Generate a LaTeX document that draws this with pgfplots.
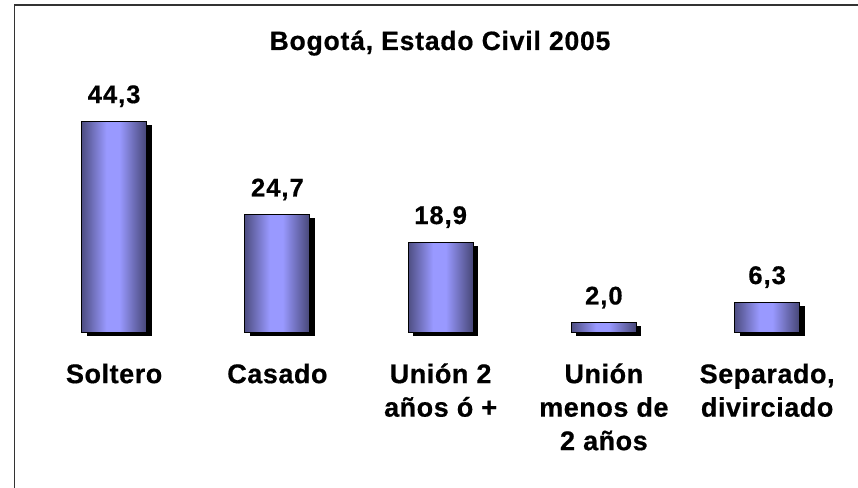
\documentclass[border=0pt]{standalone}
\usepackage{pgfplots}
\pgfplotsset{compat=1.18}
\usepackage{fontspec}
\setmainfont{Liberation Sans}
\newfontfamily\titlefont{Liberation Sans Bold}[LetterSpace=3, FakeBold=0.6]
\newfontfamily\valfont{Liberation Sans Bold}[LetterSpace=4, FakeBold=0.6]
\newfontfamily\labfont{Liberation Sans Bold}[LetterSpace=2, FakeBold=0.6]
\definecolor{bdark}{RGB}{78,78,130}
\definecolor{bdark2}{RGB}{70,70,118}
\definecolor{blight}{RGB}{153,153,255}
\pgfdeclarehorizontalshading{barshade}{100bp}{color(0bp)=(bdark); color(25bp)=(bdark); color(44bp)=(blight); color(54bp)=(blight); color(75bp)=(bdark2); color(100bp)=(bdark2)}
\pgfplotsset{
  shadowbar/.style={ybar, bar width=65pt, bar shift=0pt, fill=black, draw=none, xshift=5pt, yshift=-4pt},
  mainbar/.style={ybar, bar width=65pt, bar shift=0pt, shading=barshade, draw=black, line width=1pt,
    nodes near coords, nodes near coords style={anchor=base, yshift=18pt, inner sep=0pt, font=\valfont\fontsize{25.5}{30}\selectfont}},
}
\begin{document}
\begin{tikzpicture}[x=1pt,y=1pt]
\useasboundingbox (0,0) rectangle (858,487);
\draw[line width=1.6pt, color=black!80] (14.5,-10) -- (14.5,482) -- (880,482);
\node[anchor=base, inner sep=0pt, font=\titlefont\fontsize{26.5}{30}\selectfont] at (440,437) {Bogotá, Estado Civil 2005};
\begin{axis}[
  at={(32.5pt,155pt)}, anchor=south west,
  scale only axis, width=816.25pt, height=238pt,
  xmin=-0.5, xmax=4.5, ymin=0, ymax=50,
  clip=false,
  axis line style={draw=none},
  major tick length=0pt,
  ytick=\empty,
  xtick={0,1,2,3,4},
  xticklabels={Soltero, Casado, {Unión 2\\años ó +}, {Unión\\menos de\\2 años}, {Separado,\\divirciado}},
  typeset ticklabels with strut,
  xticklabel style={align=center, anchor=north, inner sep=0pt, font=\labfont\fontsize{27}{33.5}\selectfont, yshift=-27.5pt},
  /pgf/number format/assume math mode=true,
  /pgf/number format/.cd, use comma, fixed, fixed zerofill, precision=1, 1000 sep={},
]
\addplot[shadowbar] coordinates {(0,44.3)};
\addplot[shadowbar] coordinates {(1,24.7)};
\addplot[shadowbar] coordinates {(2,18.9)};
\addplot[shadowbar] coordinates {(3,2.0)};
\addplot[shadowbar] coordinates {(4,6.3)};
\addplot[mainbar] coordinates {(0,44.3)};
\addplot[mainbar] coordinates {(1,24.7)};
\addplot[mainbar] coordinates {(2,18.9)};
\addplot[mainbar] coordinates {(3,2.0)};
\addplot[mainbar] coordinates {(4,6.3)};
\end{axis}
\end{tikzpicture}
\end{document}
